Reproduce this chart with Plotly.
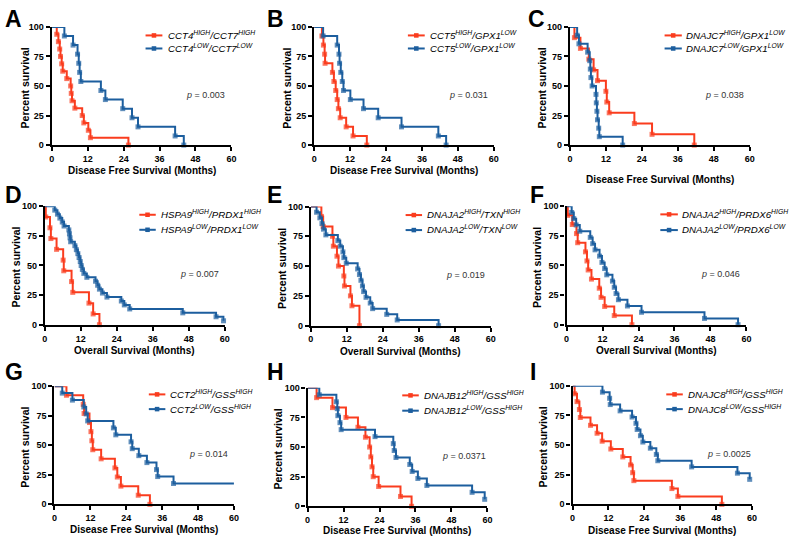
import plotly.graph_objects as go

W, H = 796, 543
RED = "#FA3C1E"
BLUE = "#1C5E9E"
FONT = "Liberation Sans, Arial, sans-serif"

# ------------------------------------------------------------------ data
X_TICKS = [0, 12, 24, 36, 48, 60]
Y_TICKS = [0, 25, 50, 75, 100]
DFS = "Disease Free Survival (Months)"
OS = "Overall Survival (Months)"

A_hi_t = [0, 1.65, 2.2, 2.65, 2.9, 3.3, 3.65, 5.0, 6.3, 6.5, 6.75, 7.7, 10.15, 10.7, 12.2, 12.9, 25.6]
A_hi_s = [100, 93.75, 87.5, 81.25, 75, 68.75, 62.5, 56.25, 50, 43.75, 37.5, 31.25, 25, 18.75, 12.5, 6.25, 0]
A_lo_t = [0, 4.2, 7.1, 8.6, 9.0, 9.3, 9.7, 16.4, 17.9, 23.7, 26.8, 28.8, 41.2, 44.1]
A_lo_s = [100, 92.3, 84.6, 76.9, 69.2, 61.5, 53.8, 46.2, 38.5, 30.8, 23.1, 15.4, 7.7, 0]

B_hi_t = [0, 2.6, 3.1, 3.5, 3.65, 6.1, 6.6, 7.2, 7.7, 8.1, 8.7, 10.7, 13.0, 17.6]
B_hi_s = [100, 92.3, 84.6, 76.9, 69.2, 61.5, 53.8, 46.2, 38.5, 30.8, 23.1, 15.4, 7.7, 0]
B_lo_t = [0, 3.0, 7.7, 8.3, 8.5, 8.9, 9.4, 9.8, 12.1, 16.5, 21.4, 29.2, 41.5, 44.1]
B_lo_s = [100, 92.3, 84.6, 76.9, 69.2, 61.5, 53.8, 46.2, 38.5, 30.8, 23.1, 15.4, 7.7, 0]

C_hi_t = [0, 1.5, 3.5, 6.3, 7.9, 9.2, 12.0, 12.3, 13.1, 21.5, 27.4, 41.5]
C_hi_s = [100, 90.9, 81.8, 72.7, 63.6, 54.5, 45.5, 36.4, 27.3, 18.2, 9.1, 0]
C_lo_t = [0, 2.4, 3.0, 5.9, 6.6, 6.8, 7.0, 7.4, 8.7, 8.8, 9.0, 9.2, 9.6, 9.8, 17.6]
C_lo_s = [100, 92.9, 85.7, 78.6, 71.4, 64.3, 57.1, 50, 42.9, 35.7, 28.6, 21.4, 14.3, 7.1, 0]

D_hi_t = [0, 0.3, 1.7, 2.0, 3.9, 6.1, 6.3, 8.9, 9.3, 14.7, 16.1, 18.2]
D_hi_s = [100, 90.9, 81.8, 72.7, 63.6, 54.5, 45.5, 36.4, 27.3, 18.2, 9.1, 0]
D_lo_t = [0, 3.3, 4.2, 5.0, 5.8, 6.4, 8.0, 8.2, 8.4, 8.6, 10.0, 10.5, 11.0, 11.4, 11.8, 12.1,
          12.5, 13.0, 14.0, 16.9, 17.6, 18.2, 19.2, 20.7, 25.5, 26.5, 28.3, 46.0, 57.1, 59.6]
D_lo_s = [100, 96.7, 93.3, 90, 86.7, 83.3, 80, 76.7, 73.3, 70, 66.7, 63.3, 60, 56.7, 53.3, 50,
          46.7, 43.3, 40, 36.7, 33.3, 30, 26.7, 23.3, 20, 16.7, 13.3, 10, 6.7, 3.3]

E_hi_t = [0, 3.5, 4.1, 7.2, 7.5, 8.7, 9.2, 11.0, 11.2, 13.2, 13.7, 16.2]
E_hi_s = [100, 91.7, 83.3, 75, 66.7, 58.3, 50, 41.7, 33.3, 25, 16.7, 0]
E_lo_t = [0, 1.9, 3.0, 3.7, 4.2, 5.0, 9.0, 9.8, 10.7, 11.0, 11.8, 15.6, 16.2, 16.7, 17.2, 17.6,
          18.4, 19.8, 20.6, 25.3, 28.8, 42.6]
E_lo_s = [100, 95.2, 90.5, 85.7, 81, 76.2, 71.4, 66.7, 61.9, 57.1, 52.4, 47.6, 42.9, 38.1, 33.3,
          28.6, 23.8, 19, 14.3, 9.5, 4.8, 0]

F_hi_t = [0, 0.4, 1.9, 3.3, 3.7, 6.3, 6.8, 7.2, 8.3, 10.9, 11.5, 12.7, 15.9, 21.8]
F_hi_s = [100, 92.3, 84.6, 76.9, 69.2, 61.5, 53.8, 46.2, 38.5, 30.8, 23.1, 15.4, 7.7, 0]
F_lo_t = [0, 1.7, 2.4, 3.2, 4.4, 7.9, 8.7, 9.5, 11.0, 11.8, 12.7, 13.4, 15.3, 15.9, 16.5, 17.3,
          20.3, 25.0, 46.0, 57.2]
F_lo_s = [100, 94.7, 89.5, 84.2, 78.9, 73.7, 68.4, 63.2, 57.9, 52.6, 47.4, 42.1, 36.8, 31.6,
          26.3, 21.1, 15.8, 10.5, 5.3, 0]

G_hi_t = [0, 4.0, 9.6, 9.9, 11.7, 12.2, 12.5, 12.8, 15.6, 20.2, 21.0, 22.2, 28.0, 31.9]
G_hi_s = [100, 92.3, 84.6, 76.9, 69.2, 61.5, 53.8, 46.2, 38.5, 30.8, 23.1, 15.4, 7.7, 0]
G_lo_t = [0, 2.6, 6.0, 9.8, 10.6, 11.1, 19.7, 20.5, 25.6, 26.0, 28.2, 30.9, 34.1, 34.5, 39.8]
G_lo_s = [100, 94.1, 88.2, 82.4, 76.5, 70.6, 64.7, 58.8, 52.9, 47.1, 41.2, 35.3, 29.4, 23.5, 17.6]
G_lo_end = 60

H_hi_t = [0, 3.0, 8.3, 12.8, 16.8, 19.3, 20.7, 21.1, 21.5, 21.9, 23.7, 31.0, 34.7]
H_hi_s = [100, 91.7, 83.3, 75, 66.7, 58.3, 50, 41.7, 33.3, 25, 16.7, 8.3, 0]
H_lo_t = [0, 3.9, 9.6, 9.9, 10.1, 10.8, 11.2, 22.5, 28.6, 28.9, 29.5, 34.1, 34.9, 36.8, 39.8, 54.9, 59.1]
H_lo_s = [100, 94.1, 88.2, 82.4, 76.5, 70.6, 64.7, 58.8, 52.9, 47.1, 41.2, 35.3, 29.4, 23.5,
          17.6, 11.8, 5.9]

I_hi_t = [0, 0.7, 1.5, 2.3, 2.6, 6.0, 8.2, 9.9, 12.8, 16.8, 19.4, 20.1, 20.5, 33.2, 35.2, 49.9]
I_hi_s = [100, 93.3, 86.7, 80, 73.3, 66.7, 60, 53.3, 46.7, 40, 33.3, 26.7, 20, 13.3, 6.7, 0]
I_lo_t = [0, 10.0, 12.4, 12.6, 15.9, 19.9, 21.2, 21.6, 22.7, 23.5, 26.0, 28.0, 28.5, 39.8, 55.1, 59.2]
I_lo_s = [100, 94.7, 89.5, 84.2, 78.9, 73.7, 68.4, 63.2, 57.9, 52.6, 47.4, 42.1, 36.8, 31.6, 26.3, 21.1]

LETTERS = ["A", "B", "C", "D", "E", "F", "G", "H", "I"]
X_TITLES = [DFS, DFS, DFS, OS, OS, OS, DFS, DFS, DFS]
P_VALUES = ["0.003", "0.031", "0.038", "0.007", "0.019", "0.046", "0.014", "0.0371", "0.0025"]
LABELS_HI = [
    "CCT4<sup>HIGH</sup>/CCT7<sup>HIGH</sup>",
    "CCT5<sup>HIGH</sup>/GPX1<sup>LOW</sup>",
    "DNAJC7<sup>HIGH</sup>/GPX1<sup>LOW</sup>",
    "HSPA9<sup>HIGH</sup>/PRDX1<sup>HIGH</sup>",
    "DNAJA2<sup>HIGH</sup>/TXN<sup>HIGH</sup>",
    "DNAJA2<sup>HIGH</sup>/PRDX6<sup>HIGH</sup>",
    "CCT2<sup>HIGH</sup>/GSS<sup>HIGH</sup>",
    "DNAJB12<sup>HIGH</sup>/GSS<sup>HIGH</sup>",
    "DNAJC8<sup>HIGH</sup>/GSS<sup>HIGH</sup>",
]
LABELS_LO = [
    "CCT4<sup>LOW</sup>/CCT7<sup>LOW</sup>",
    "CCT5<sup>LOW</sup>/GPX1<sup>LOW</sup>",
    "DNAJC7<sup>LOW</sup>/GPX1<sup>LOW</sup>",
    "HSPA9<sup>LOW</sup>/PRDX1<sup>LOW</sup>",
    "DNAJA2<sup>LOW</sup>/TXN<sup>LOW</sup>",
    "DNAJA2<sup>LOW</sup>/PRDX6<sup>LOW</sup>",
    "CCT2<sup>LOW</sup>/GSS<sup>HIGH</sup>",
    "DNAJB12<sup>LOW</sup>/GSS<sup>HIGH</sup>",
    "DNAJC8<sup>LOW</sup>/GSS<sup>HIGH</sup>",
]
CURVES = [
    ((A_hi_t, A_hi_s, None), (A_lo_t, A_lo_s, None)),
    ((B_hi_t, B_hi_s, None), (B_lo_t, B_lo_s, None)),
    ((C_hi_t, C_hi_s, None), (C_lo_t, C_lo_s, None)),
    ((D_hi_t, D_hi_s, None), (D_lo_t, D_lo_s, None)),
    ((E_hi_t, E_hi_s, None), (E_lo_t, E_lo_s, None)),
    ((F_hi_t, F_hi_s, None), (F_lo_t, F_lo_s, None)),
    ((G_hi_t, G_hi_s, None), (G_lo_t, G_lo_s, G_lo_end)),
    ((H_hi_t, H_hi_s, None), (H_lo_t, H_lo_s, None)),
    ((I_hi_t, I_hi_s, None), (I_lo_t, I_lo_s, None)),
]

# ------------------------------------------------------------------ layout (pixels)
# plot box: x at 0, x at 60, y at 100, y at 0
BOX = [
    (49.3, 230.7, 22.3, 142.7), (314.3, 495.7, 22.3, 142.7), (572.7, 754.3, 22.3, 142.7),
    (42.3, 224.0, 205.0, 325.7), (311.0, 492.7, 205.3, 326.7), (569.3, 751.0, 205.0, 325.7),
    (52.0, 233.3, 388.3, 508.7), (307.7, 489.3, 390.0, 510.7), (575.3, 756.7, 388.0, 508.7),
]
LETTER_POS = [(0, -1.5), (265, -1.5), (528.5, -1.5), (0, 178), (265, 178), (530, 178),
              (0, 359), (265, 359), (530, 359)]
# legend: line x0, x1, y first, y second, text x
LEG = [
    (144, 161, 31, 44.3, 165.7), (409, 426, 31, 44.3, 430.7), (668.3, 685.7, 31, 44.3, 689.3),
    (137.7, 154.3, 213.7, 229, 158.3), (406.7, 423.3, 214, 229.3, 427.3), (664, 681.7, 213.3, 229.3, 685),
    (147.3, 164, 396.7, 411.7, 167.7), (403.3, 420, 397.7, 413.3, 424), (670, 686.7, 396.7, 411.7, 691),
]
XT_Y = [168.3, 168.3, 178, 352.3, 352.7, 351.7, 534, 535.7, 535]
YT_X = [21.7, 286.7, 544, 13.3, 281.7, 540, 22.7, 278.3, 546]


def px(x):
    return x / W


def py(y):
    return 1 - y / H


fig = go.Figure()
layout = dict(
    width=W, height=H, margin=dict(l=0, r=0, t=0, b=0),
    paper_bgcolor="white", plot_bgcolor="white", showlegend=False,
    font=dict(family=FONT, color="black"),
)
annotations = []
shapes = []

for i in range(9):
    n = "" if i == 0 else str(i + 1)
    x0, x1, ytop, ybot = BOX[i]
    axis_common = dict(
        showline=True, linecolor="black", linewidth=2, ticks="outside", ticklen=4,
        tickwidth=2, tickcolor="black", showgrid=False, zeroline=False, fixedrange=True,
        tickfont=dict(family=FONT, size=9, color="black", weight="bold"),
    )
    layout["xaxis" + n] = dict(
        axis_common, domain=[px(x0), px(x1)], range=[0, 60], tickmode="array",
        tickvals=X_TICKS, anchor="y" + n,
    )
    layout["yaxis" + n] = dict(
        axis_common, domain=[py(ybot), py(ytop)], range=[0, 100], tickmode="array",
        tickvals=Y_TICKS, anchor="x" + n, linewidth=2.3,
    )

    for (t, s, end), color in zip(CURVES[i], [RED, BLUE]):
        xs = list(t)
        ys = list(s)
        sizes = [0] + [5] * (len(t) - 1)
        if end is not None:
            xs.append(end)
            ys.append(s[-1])
            sizes.append(0)
        fig.add_trace(go.Scatter(
            x=xs, y=ys, mode="lines+markers", line=dict(color=color, width=2, shape="hv"),
            marker=dict(symbol="square", size=sizes, color=color, line=dict(width=0)),
            xaxis="x" + n, yaxis="y" + n, cliponaxis=False, hoverinfo="skip",
        ))

    # panel letter
    lx, ly = LETTER_POS[i]
    annotations.append(dict(
        text=LETTERS[i], x=px(lx), y=py(ly), xref="paper", yref="paper",
        xanchor="left", yanchor="top", showarrow=False,
        font=dict(family=FONT, size=23, color="black", weight="bold"),
    ))
    # axis titles
    annotations.append(dict(
        text=X_TITLES[i], x=px((x0 + x1) / 2), y=py(XT_Y[i]), xref="paper",
        yref="paper", xanchor="center", yanchor="middle", showarrow=False,
        font=dict(family=FONT, size=10, color="black", weight="bold"),
    ))
    annotations.append(dict(
        text="Percent survival", x=px(YT_X[i]), y=py((ytop + ybot) / 2 + 2), xref="paper",
        yref="paper", xanchor="center", yanchor="middle", showarrow=False, textangle=-90,
        font=dict(family=FONT, size=10.5, color="black", weight="bold"),
    ))
    # p value
    annotations.append(dict(
        text="<i>p</i> = %s" % P_VALUES[i], x=44.3, y=42.5, xref="x" + n, yref="y" + n,
        xanchor="left", yanchor="middle", showarrow=False,
        font=dict(family=FONT, size=9, color="#333333"),
    ))
    # legend (keys + labels)
    lx0, lx1, ly1, ly2, tx = LEG[i]
    for yy, label, color in [(ly1, LABELS_HI[i], RED), (ly2, LABELS_LO[i], BLUE)]:
        shapes.append(dict(
            type="line", xref="paper", yref="paper", x0=px(lx0), x1=px(lx1), y0=py(yy), y1=py(yy),
            line=dict(color=color, width=2),
        ))
        cx = (lx0 + lx1) / 2
        shapes.append(dict(
            type="rect", xref="paper", yref="paper", x0=px(cx - 2.3), x1=px(cx + 2.3),
            y0=py(yy + 2.3), y1=py(yy - 2.3), fillcolor=color, line=dict(width=0),
        ))
        annotations.append(dict(
            text=label, x=px(tx - 1), y=py(yy - 0.6), xref="paper", yref="paper",
            xanchor="left", yanchor="middle", showarrow=False,
            font=dict(family=FONT, size=9.7, color="black", style="italic"),
        ))

layout["annotations"] = annotations
layout["shapes"] = shapes
fig.update_layout(**layout)
fig.write_html(
    "out.html",
    config={"displayModeBar": False},
    post_script="document.body.style.margin='0px';document.body.style.overflow='hidden';",
)
